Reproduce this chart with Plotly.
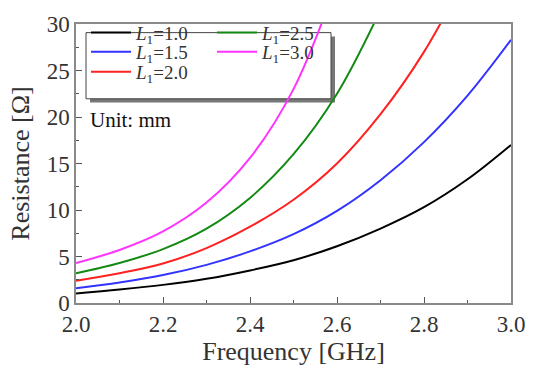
import plotly.graph_objects as go

freq = [2.0, 2.1, 2.2, 2.3, 2.4, 2.5, 2.6, 2.7, 2.8, 2.9, 3.0]
r_10 = [1.03, 1.45, 1.95, 2.6, 3.5, 4.6, 6.1, 8.0, 10.3, 13.3, 17.0]
r_15 = [1.58, 2.2, 3.0, 4.1, 5.55, 7.4, 9.9, 13.2, 17.3, 22.3, 28.3]
r_20 = [2.4, 3.2, 4.25, 5.9, 8.2, 11.1, 15.0, 20.3, 27.0, 35.5, None]
r_25 = [3.2, 4.3, 5.8, 8.0, 11.3, 16.0, 22.5, 31.5, None, None, None]
r_30 = [4.3, 5.7, 7.7, 10.8, 15.6, 23.0, 34.5, None, None, None, None]

labels = ["1.0", "1.5", "2.0", "2.5", "3.0"]
series = [r_10, r_15, r_20, r_25, r_30]
colors = ["#000000", "#3333ff", "#ff2020", "#138a13", "#ff33ff"]

FONT = "Liberation Serif"
L, T, W, H = 76, 15, 435, 291


def px2paper_x(px):
    return (px - L) / W


def px2paper_y(py):
    return (T + H - py) / H


# legend slot positions (pixel anchors of each legend row)
slot_x = [86, 86, 86, 212, 212]
slot_y = [24, 44, 65, 24, 44]

fig = go.Figure()
layout_legends = {}
for i, (lab, ys, c) in enumerate(zip(labels, series, colors)):
    xs = [f for f, y in zip(freq, ys) if y is not None]
    yv = [y for y in ys if y is not None]
    lname = "legend" if i == 0 else "legend%d" % (i + 1)
    fig.add_trace(go.Scatter(x=xs, y=yv, mode="lines",
                             line=dict(color=c, width=2, shape="spline", smoothing=1.0),
                             name="<i>L</i><sub>1</sub>=" + lab, legend=lname))
    layout_legends[lname] = dict(x=px2paper_x(slot_x[i]), y=px2paper_y(slot_y[i]),
                                 xanchor="left", yanchor="middle", bgcolor="rgba(0,0,0,0)",
                                 font=dict(family=FONT, size=19, color="#333"),
                                 tracegroupgap=0, itemwidth=40)

fig.update_layout(
    width=540, height=370,
    margin=dict(l=L, r=540 - L - W, t=T, b=370 - T - H),
    plot_bgcolor="white", paper_bgcolor="white",
    showlegend=True,
    font=dict(family=FONT, color="#333"),
    **layout_legends,
)
fig.update_xaxes(range=[2.0, 3.0], tickvals=[2.0, 2.2, 2.4, 2.6, 2.8, 3.0],
                 ticktext=["2.0", "2.2", "2.4", "2.6", "2.8", "3.0"],
                 showline=True, linecolor="#8a8a8a", linewidth=1.5, mirror=True,
                 ticks="inside", tickcolor="#555", ticklen=6, tickwidth=1,
                 showgrid=False, zeroline=False,
                 tickfont=dict(family=FONT, size=23, color="#333"),
                 minor=dict(dtick=0.1, ticks="inside", ticklen=3, tickcolor="#555"),
                 title=dict(text="Frequency [GHz]", font=dict(family=FONT, size=26, color="#333"), standoff=2))
fig.update_yaxes(range=[0, 30], tickvals=[0, 5, 10, 15, 20, 25, 30],
                 showline=True, linecolor="#8a8a8a", linewidth=1.5, mirror=True,
                 ticks="inside", tickcolor="#555", ticklen=6, tickwidth=1,
                 showgrid=False, zeroline=False,
                 tickfont=dict(family=FONT, size=23, color="#333"),
                 minor=dict(dtick=2.5, ticks="inside", ticklen=3, tickcolor="#555"),
                 title=dict(text="Resistance [Ω]", font=dict(family=FONT, size=26, color="#333"), standoff=10))

fig.add_shape(type="rect", xref="paper", yref="paper",
              x0=px2paper_x(90), x1=px2paper_x(335), y0=px2paper_y(97), y1=px2paper_y(28),
              fillcolor="#777", line=dict(width=0), layer="below")
fig.add_shape(type="rect", xref="paper", yref="paper",
              x0=px2paper_x(86), x1=px2paper_x(331), y0=px2paper_y(93), y1=px2paper_y(24),
              fillcolor="white", line=dict(color="#444", width=1), layer="below")

fig.add_annotation(text="Unit: mm", xref="paper", yref="paper", x=px2paper_x(88), y=px2paper_y(115),
                   xanchor="left", yanchor="middle", showarrow=False,
                   font=dict(family=FONT, size=21, color="#111"))

fig.write_html("out.html")
